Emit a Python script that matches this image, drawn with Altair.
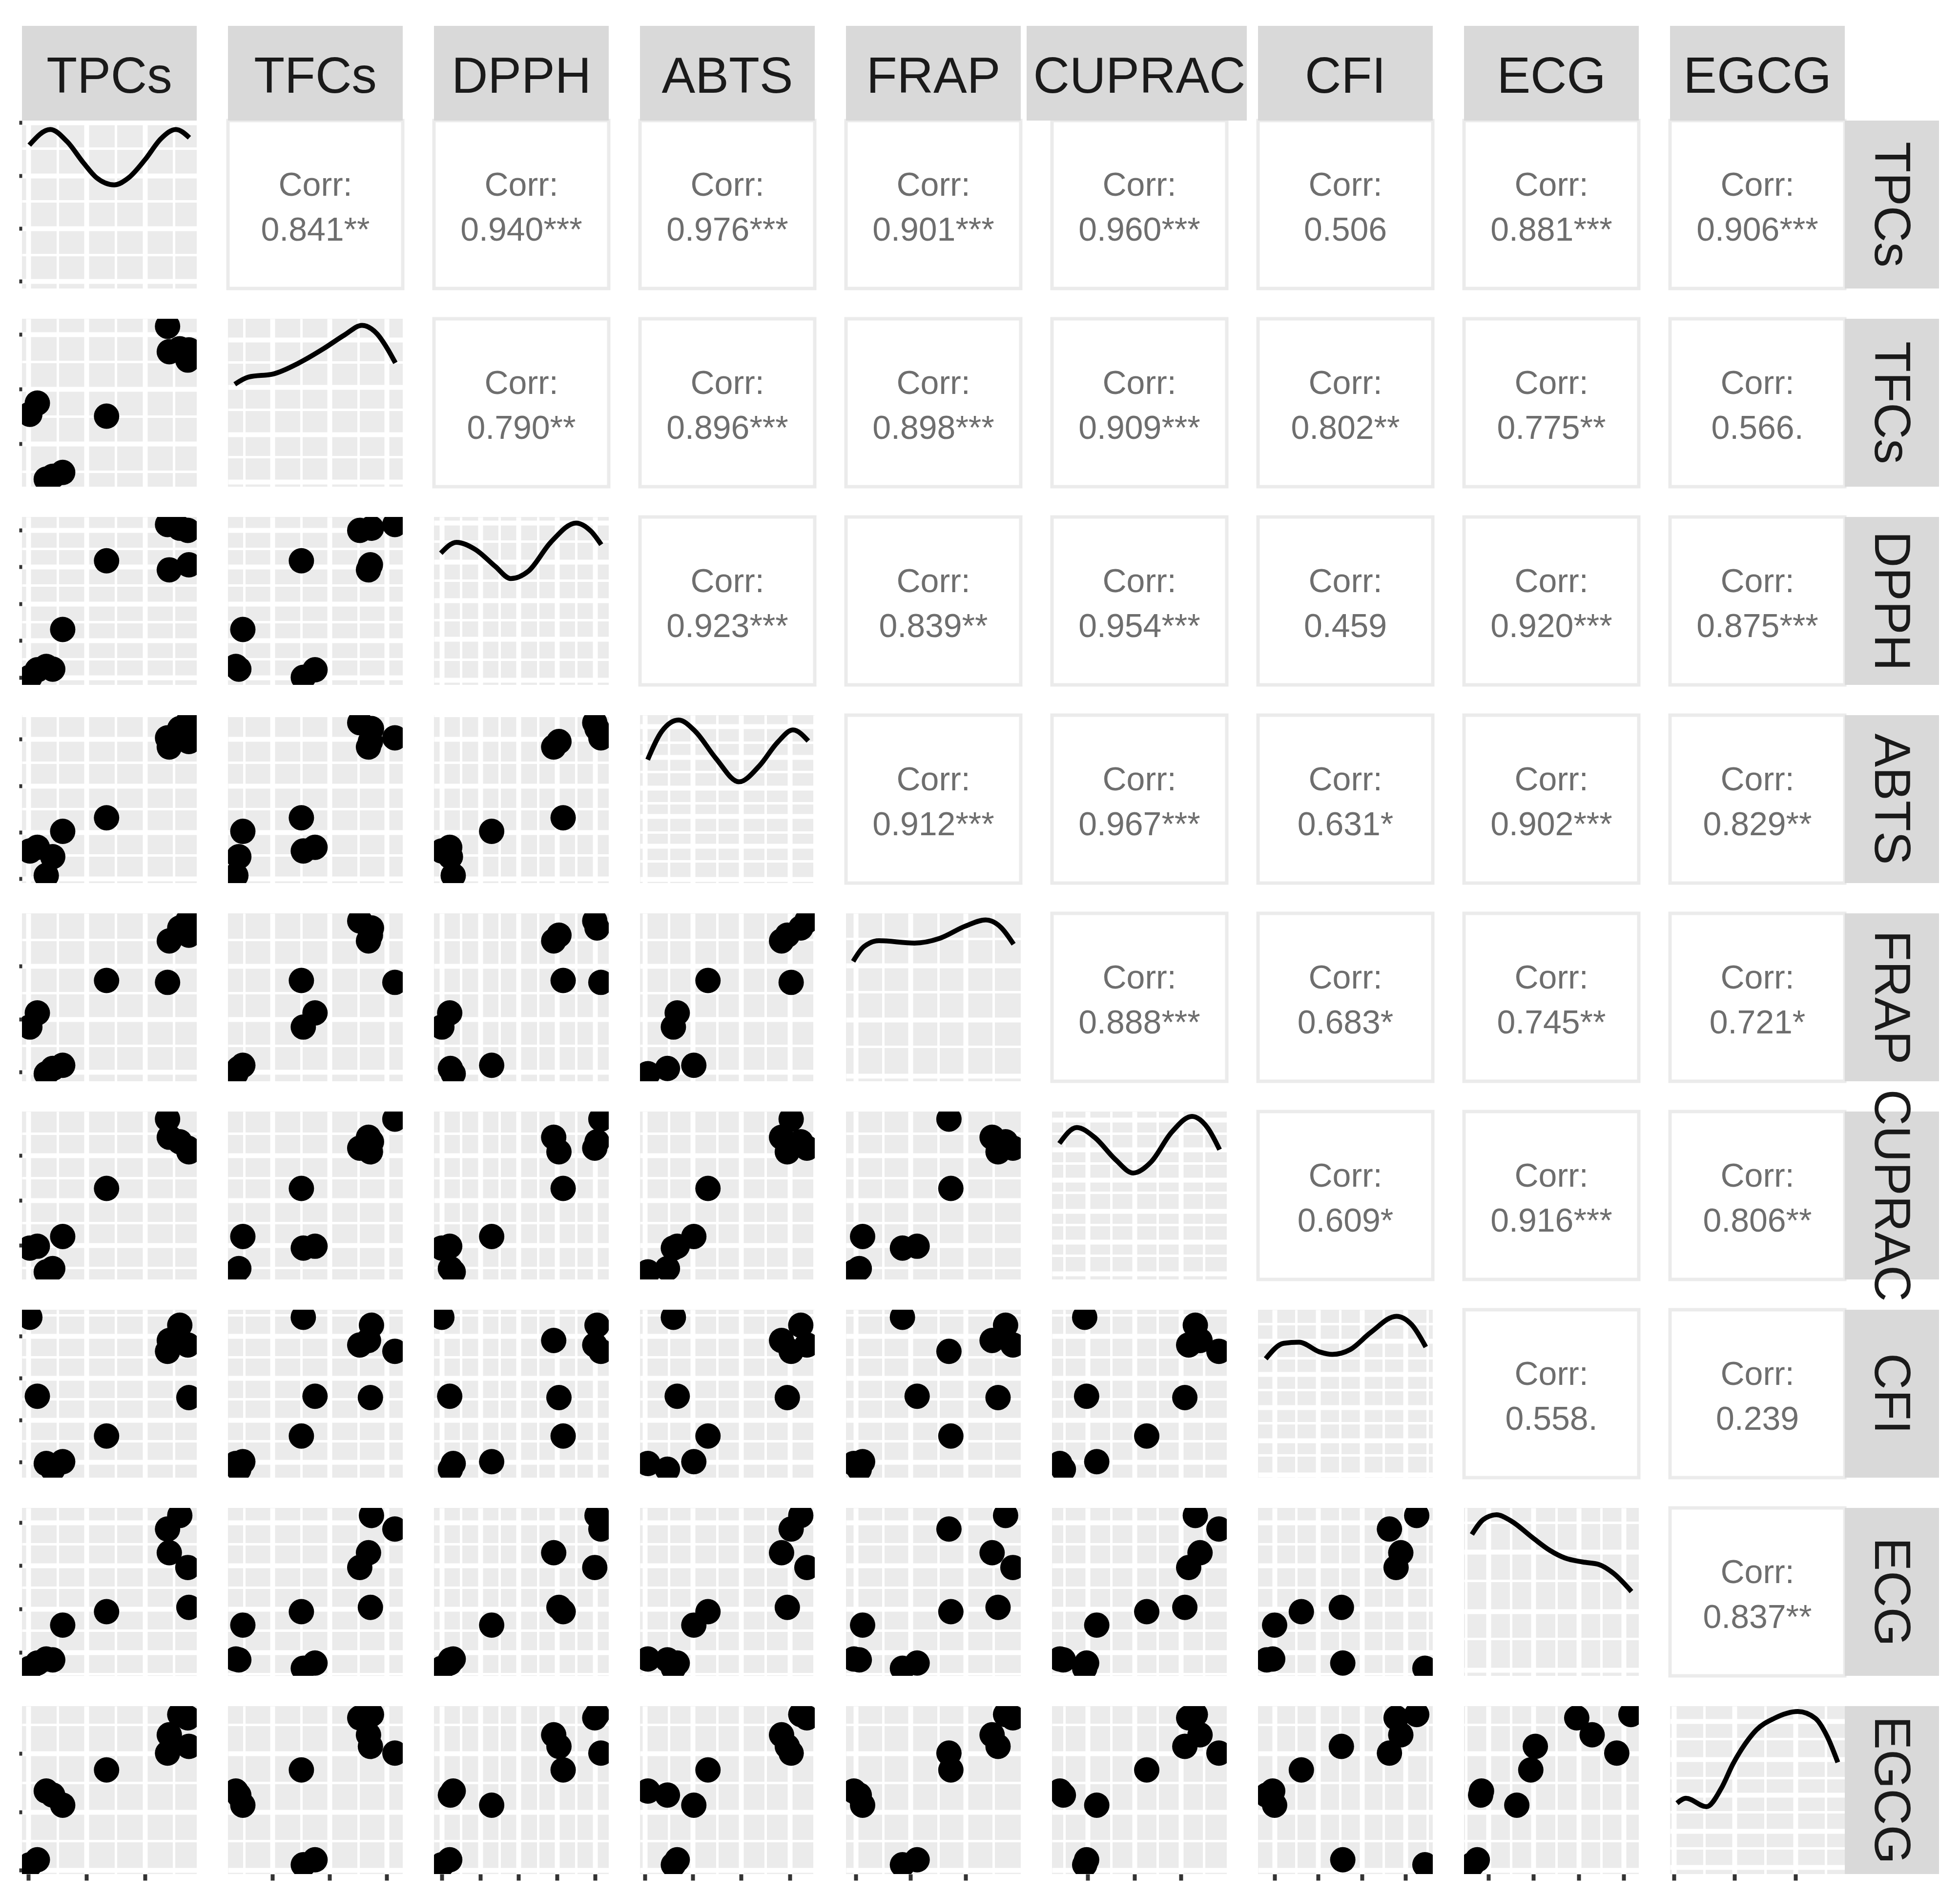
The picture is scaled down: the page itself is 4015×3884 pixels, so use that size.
import json
import altair as alt
import pandas as pd

# ---------------- data (axis labels are hidden, so values are in panel-relative units) ----
VARS = ["TPCs", "TFCs", "DPPH", "ABTS", "FRAP", "CUPRAC", "CFI", "ECG", "EGCG"]

# 11 samples (same order in every list)
tpcs   = [0.045, 0.088, 0.139, 0.176, 0.233, 0.484, 0.833, 0.843, 0.903, 0.949, 0.955]
tfcs   = [0.431, 0.498, 0.045, 0.062, 0.085, 0.420, 0.955, 0.804, 0.821, 0.754, 0.815]
dpph   = [0.045, 0.090, 0.110, 0.094, 0.330, 0.739, 0.955, 0.685, 0.933, 0.920, 0.715]
abts   = [0.191, 0.213, 0.045, 0.157, 0.308, 0.389, 0.865, 0.810, 0.920, 0.955, 0.843]
frap   = [0.323, 0.407, 0.045, 0.076, 0.095, 0.600, 0.589, 0.836, 0.913, 0.955, 0.870]
cuprac = [0.187, 0.198, 0.045, 0.065, 0.256, 0.542, 0.955, 0.847, 0.820, 0.782, 0.760]
cfi    = [0.955, 0.485, 0.084, 0.050, 0.095, 0.248, 0.752, 0.817, 0.908, 0.790, 0.477]
ecg    = [0.045, 0.076, 0.100, 0.095, 0.302, 0.382, 0.874, 0.733, 0.955, 0.645, 0.408]
egcg   = [0.055, 0.085, 0.494, 0.470, 0.410, 0.620, 0.720, 0.829, 0.950, 0.930, 0.760]
SAMPLES = [tpcs, tfcs, dpph, abts, frap, cuprac, cfi, ecg, egcg]

# density curves on the diagonal (x, height)
tpcs_dx   = [0.042, 0.162, 0.259, 0.352, 0.426, 0.528, 0.611, 0.704, 0.796, 0.880, 0.958]
tpcs_dy   = [0.854, 0.947, 0.874, 0.748, 0.660, 0.617, 0.660, 0.767, 0.893, 0.947, 0.898]
tfcs_dx   = [0.039, 0.118, 0.262, 0.406, 0.550, 0.666, 0.767, 0.853, 0.911, 0.958]
tfcs_dy   = [0.610, 0.653, 0.672, 0.737, 0.824, 0.903, 0.961, 0.910, 0.824, 0.737]
dpph_dx   = [0.039, 0.129, 0.237, 0.351, 0.439, 0.539, 0.668, 0.813, 0.899, 0.957]
dpph_dy   = [0.784, 0.849, 0.806, 0.705, 0.633, 0.676, 0.849, 0.964, 0.914, 0.835]
abts_dx   = [0.044, 0.125, 0.221, 0.316, 0.434, 0.566, 0.684, 0.787, 0.875, 0.963]
abts_dy   = [0.735, 0.904, 0.971, 0.904, 0.743, 0.603, 0.699, 0.838, 0.912, 0.846]
frap_dx   = [0.041, 0.102, 0.189, 0.392, 0.538, 0.683, 0.799, 0.886, 0.959]
frap_dy   = [0.714, 0.801, 0.837, 0.823, 0.852, 0.924, 0.961, 0.917, 0.816]
cuprac_dx = [0.042, 0.142, 0.244, 0.362, 0.464, 0.567, 0.684, 0.801, 0.889, 0.959]
cuprac_dy = [0.810, 0.905, 0.846, 0.715, 0.634, 0.700, 0.876, 0.971, 0.905, 0.773]
cfi_dx    = [0.044, 0.147, 0.235, 0.352, 0.425, 0.528, 0.645, 0.792, 0.880, 0.960]
cfi_dy    = [0.708, 0.800, 0.807, 0.749, 0.734, 0.763, 0.865, 0.961, 0.910, 0.778]
ecg_dx    = [0.045, 0.112, 0.186, 0.270, 0.391, 0.493, 0.577, 0.679, 0.772, 0.856, 0.958]
ecg_dy    = [0.842, 0.932, 0.959, 0.922, 0.824, 0.746, 0.702, 0.678, 0.663, 0.610, 0.502]
egcg_dx   = [0.040, 0.091, 0.209, 0.293, 0.360, 0.428, 0.495, 0.596, 0.731, 0.832, 0.899, 0.960]
egcg_dy   = [0.422, 0.451, 0.401, 0.510, 0.655, 0.772, 0.859, 0.927, 0.968, 0.927, 0.820, 0.665]
DENS = [(tpcs_dx, tpcs_dy), (tfcs_dx, tfcs_dy), (dpph_dx, dpph_dy), (abts_dx, abts_dy),
        (frap_dx, frap_dy), (cuprac_dx, cuprac_dy), (cfi_dx, cfi_dy), (ecg_dx, ecg_dy),
        (egcg_dx, egcg_dy)]

# correlation labels (upper triangle, row by row)
corr_tpcs   = ["0.841**", "0.940***", "0.976***", "0.901***", "0.960***", "0.506", "0.881***", "0.906***"]
corr_tfcs   = ["0.790**", "0.896***", "0.898***", "0.909***", "0.802**", "0.775**", "0.566."]
corr_dpph   = ["0.923***", "0.839**", "0.954***", "0.459", "0.920***", "0.875***"]
corr_abts   = ["0.912***", "0.967***", "0.631*", "0.902***", "0.829**"]
corr_frap   = ["0.888***", "0.683*", "0.745**", "0.721*"]
corr_cuprac = ["0.609*", "0.916***", "0.806**"]
corr_cfi    = ["0.558.", "0.239"]
corr_ecg    = ["0.837**"]
CORR = [corr_tpcs, corr_tfcs, corr_dpph, corr_abts, corr_frap, corr_cuprac, corr_cfi, corr_ecg]

# break positions per variable (major / minor)
var_major = [
    [0.037, 0.370, 0.704],
    [0.255, 0.581, 0.908],
    [0.045, 0.264, 0.484, 0.703, 0.921],
    [0.027, 0.303, 0.579, 0.858],
    [0.055, 0.370, 0.685],
    [0.203, 0.471, 0.737],
    [0.094, 0.343, 0.594, 0.844],
    [0.140, 0.398, 0.656, 0.913],
    [0.023, 0.370, 0.717],
]
var_minor = [
    [0.2035, 0.537, 0.870],
    [0.091, 0.418, 0.745],
    [0.154, 0.374, 0.594, 0.812],
    [0.165, 0.441, 0.718, 0.997],
    [0.2125, 0.5275, 0.8425],
    [0.069, 0.337, 0.604, 0.870],
    [0.2185, 0.4685, 0.719, 0.969],
    [0.011, 0.269, 0.527, 0.7845],
    [0.1965, 0.5435, 0.890],
]
# density-axis breaks on the diagonal panels
dens_major = [
    [0.044, 0.359, 0.672, 0.988],
    [0.029, 0.311, 0.593, 0.874],
    [0.029, 0.273, 0.504, 0.734, 0.964],
    [0.022, 0.221, 0.397, 0.566, 0.750, 0.934],
    [0.032, 0.366, 0.688],
    [0.034, 0.224, 0.407, 0.594, 0.773, 0.952],
    [0.018, 0.222, 0.420, 0.617, 0.814],
    [0.034, 0.385, 0.737],
    [0.040, 0.257, 0.471, 0.682, 0.910],
]
dens_minor = [
    [0.202, 0.519, 0.833],
    [0.178, 0.460, 0.741],
    [0.151, 0.388, 0.622, 0.856],
    [0.132, 0.301, 0.478, 0.662, 0.838],
    [0.206, 0.533, 0.848],
    [0.143, 0.327, 0.517, 0.693, 0.868],
    [0.135, 0.325, 0.522, 0.712, 0.917],
    [0.220, 0.566, 0.912],
    [0.155, 0.369, 0.573, 0.806],
]

# ---------------- style ----------------
FONT = "Liberation Sans"
W, H = 358, 344          # panel size
GX, GY = 64, 62          # gaps between panels
STRIP_H = 194            # top strip height
STRIP_W = 193            # right strip width
PANEL_BG = "#ebebeb"
STRIP_BG = "#d9d9d9"
STRIP_TXT = "#1a1a1a"
CORR_TXT = "#6e6e6e"
SC = alt.Scale(domain=[0, 1], nice=False, zero=False, padding=0)

PANEL_VIEW = alt.ViewBackground(fill=PANEL_BG, strokeWidth=0)
CORR_VIEW = alt.ViewBackground(fill="white", stroke="#ebebeb", strokeWidth=7)


def make_axis(majors, minors, show_ticks, tick_size):
    test = "indexof(%s, datum.value) >= 0" % json.dumps(majors)
    kw = dict(values=majors + minors, grid=True, gridColor="white", gridOpacity=1,
              gridWidth={"condition": {"test": test, "value": 10}, "value": 5},
              labels=False, domain=False, title=None)
    if show_ticks:
        kw.update(ticks=True, tickColor="#333333", tickWidth=8, tickSize=tick_size,
                  tickOpacity={"condition": {"test": test, "value": 1}, "value": 0})
    else:
        kw.update(ticks=False)
    return alt.Axis(**kw)


def scatter(i, j):
    df = pd.DataFrame({"x": SAMPLES[j], "y": SAMPLES[i]})
    return [alt.Chart(df).mark_circle(
        size=2700, color="black", opacity=1, clip=True
    ).encode(
        x=alt.X("x:Q", scale=SC, axis=make_axis(var_major[j], var_minor[j], i == 8, 13)),
        y=alt.Y("y:Q", scale=SC, axis=make_axis(var_major[i], var_minor[i], j == 0, 6)),
    )]


def diag(k):
    dx, dy = DENS[k]
    df = pd.DataFrame({"x": dx, "y": dy})
    return [alt.Chart(df).mark_line(
        color="black", strokeWidth=10, interpolate="monotone", clip=True
    ).encode(
        x=alt.X("x:Q", scale=SC, axis=make_axis(var_major[k], var_minor[k], k == 8, 13)),
        y=alt.Y("y:Q", scale=SC, axis=make_axis(dens_major[k], dens_minor[k], k == 0, 6)),
    )]


def corr(i, j):
    df = pd.DataFrame({"head": ["Corr:"], "val": [CORR[i][j - i - 1]]})
    base = alt.Chart(df)
    t1 = base.mark_text(font=FONT, fontSize=68, color=CORR_TXT, align="center",
                        baseline="middle").encode(text="head:N", x=alt.value(W / 2), y=alt.value(134))
    t2 = base.mark_text(font=FONT, fontSize=68, color=CORR_TXT, align="center",
                        baseline="middle").encode(text="val:N", x=alt.value(W / 2), y=alt.value(226))
    return [t1, t2]


def top_strip(k):
    # strip label sitting on top of the first-row panel
    df = pd.DataFrame({"label": [VARS[k]]})
    base = alt.Chart(df)
    if VARS[k] == "CUPRAC":
        x0, x1 = -52, 399      # this grey box is widened around its overflowing label
    else:
        x0, x1 = 0, W
    box = base.mark_rect(color=STRIP_BG).encode(
        x=alt.value(x0), x2=alt.value(x1), y=alt.value(-STRIP_H), y2=alt.value(0))
    txt = base.mark_text(font=FONT, fontSize=103, color=STRIP_TXT, align="center",
                         baseline="middle").encode(text="label:N", x=alt.value(W / 2),
                                                   y=alt.value(-STRIP_H / 2 + 9))
    return [box, txt]


def right_strip(k):
    df = pd.DataFrame({"label": [VARS[k]]})
    base = alt.Chart(df)
    box = base.mark_rect(color=STRIP_BG).encode(
        x=alt.value(W), x2=alt.value(W + STRIP_W), y=alt.value(0), y2=alt.value(H))
    txt = base.mark_text(font=FONT, fontSize=103, color=STRIP_TXT, align="center",
                         baseline="middle", angle=90).encode(
        text="label:N", x=alt.value(W + STRIP_W / 2 - 4), y=alt.value(H / 2))
    return [box, txt]


def panel(i, j):
    if i == j:
        layers, view = diag(i), PANEL_VIEW
    elif i > j:
        layers, view = scatter(i, j), PANEL_VIEW
    else:
        layers, view = corr(i, j), CORR_VIEW
    if i == 0:
        layers = layers + top_strip(j)
    if j == 8:
        layers = layers + right_strip(i)
    return alt.layer(*layers, view=view).properties(width=W, height=H)


panels = [panel(i, j) for i in range(9) for j in range(9)]

chart = alt.concat(
    *panels, columns=9, spacing={"row": GY, "column": GX}, bounds="flush",
    padding={"left": 27, "top": 41, "right": 10, "bottom": 10},
    background="white",
).configure_view(strokeWidth=0)

chart.save("out.html", embed_options={"renderer": "svg", "actions": False})
